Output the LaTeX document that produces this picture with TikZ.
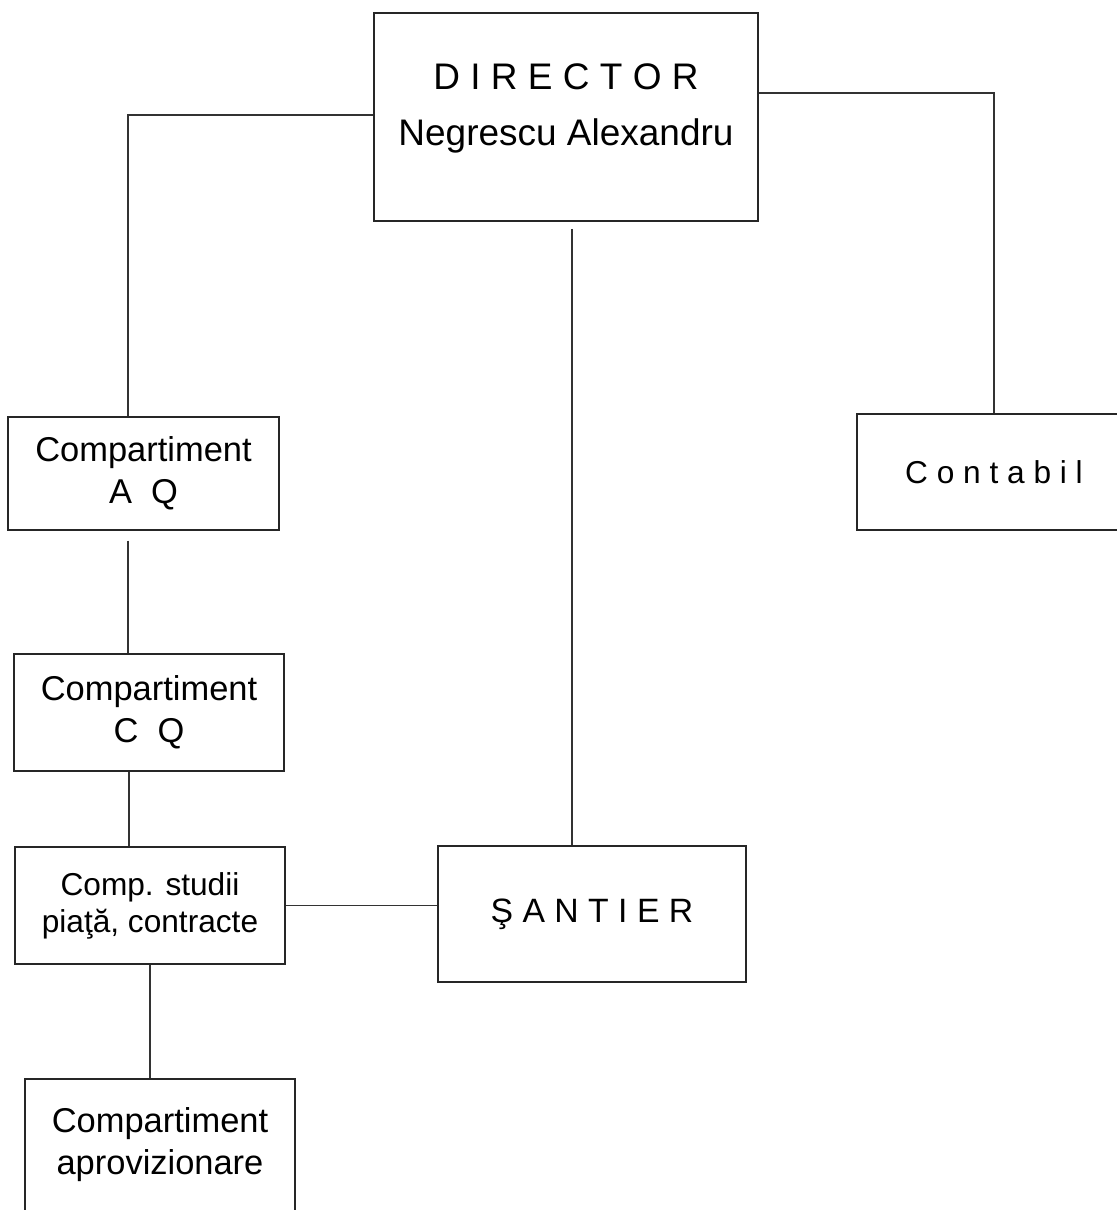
\documentclass[tikz,border=0pt]{standalone}
\usepackage{fontspec}
\setmainfont{Liberation Sans}
\begin{document}
\begin{tikzpicture}[x=0.025cm, y=-0.025cm,
    casuta/.style={draw=black!85, line width=0.9pt, inner sep=0pt, align=center},
    legatura/.style={draw=black!80, line width=0.9pt}]
    \clip (0,0) rectangle (1117,1210);

    % Conducere
    \node[casuta, minimum width=9.6cm, minimum height=5.2cm, text depth=17pt, font=\fontsize{26.3}{39.8}\selectfont] (director) at (566,117) {D I R E C T O R\\Negrescu Alexandru};

    % Compartimente - coloana din stanga
    \node[casuta, minimum width=6.775cm, minimum height=2.825cm, font=\fontsize{24.5}{29.9}\selectfont] (aq) at (143.5,473.5) {Compartiment\\A\ \ Q};
    \node[casuta, minimum width=6.75cm, minimum height=2.925cm, font=\fontsize{24.5}{29.9}\selectfont] (cq) at (149,712.5) {Compartiment\\C\ \ Q};
    \node[casuta, minimum width=6.75cm, minimum height=2.925cm, font=\fontsize{22.5}{26.3}\selectfont] (studii) at (150,905.5) {Comp. studii\\piaţă, contracte};
    \node[casuta, minimum width=6.75cm, minimum height=3.3cm, font=\fontsize{24.5}{29.9}\selectfont] (aprov) at (160,1145) {Compartiment\\aprovizionare};

    % Santier si contabil
    \node[casuta, minimum width=7.7cm, minimum height=3.4cm, font=\fontsize{24}{28}\selectfont] (santier) at (592,914) {Ş A N T I E R};
    \node[casuta, minimum width=6.85cm, minimum height=2.9cm, font=\fontsize{22.5}{27}\selectfont] (contabil) at (994,472) {C o n t a b i l};

    % Legaturi
    \draw[legatura] ([yshift=0.05cm]director.west) -| ([xshift=-0.39cm]aq.north);
    \draw[legatura] ([yshift=0.6cm]director.east) -| (contabil.north);
    \draw[legatura, shorten <=0.18cm] ([xshift=0.15cm]director.south) -- ([xshift=0.15cm]director.south |- santier.north);
    \draw[legatura, shorten <=0.25cm] ([xshift=-0.39cm]aq.south) -- ([xshift=-0.39cm]aq.south |- cq.north);
    \draw[legatura] ([xshift=-0.5cm]cq.south) -- ([xshift=-0.5cm]cq.south |- studii.north);
    \draw[legatura] (studii.east) -- (studii.east -| santier.west);
    \draw[legatura] (studii.south) -- (studii.south |- aprov.north);
\end{tikzpicture}
\end{document}
